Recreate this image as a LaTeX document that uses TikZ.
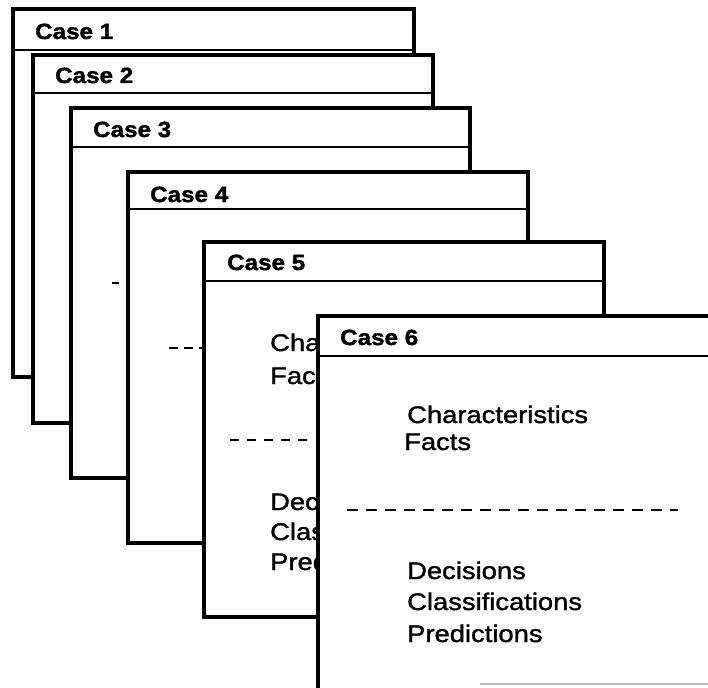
\documentclass[tikz,border=0pt]{standalone}
\usepackage{fontspec}
\setmainfont{Liberation Sans}
\newfontfamily\bodyfont[FakeStretch=1.14,FakeBold=1.4]{Liberation Sans}
\newfontfamily\headfont[FakeStretch=1.1,FakeBold=1.6]{Liberation Sans}
\tikzset{
  casebox/.style={draw=black, line width=3.2pt, fill=white, line join=miter},
  headline/.style={line width=2.4pt},
  sepline/.style={line width=2.2pt, dash pattern=on 10pt off 8pt},
  head/.style={anchor=base west, inner sep=0pt, font=\headfont\bfseries\fontsize{22}{22}\selectfont},
  body/.style={anchor=base west, inner sep=0pt, font=\bodyfont\fontsize{24}{24}\selectfont},
}
\begin{document}
\begin{tikzpicture}[x=1pt,y=-1pt]
\useasboundingbox (0,0) rectangle (708,687);
\clip (0,0) rectangle (708,687);
% Case 1
\draw[casebox] (13,9) rectangle (414,377);
\draw[headline] (13,50) -- (414,50);
\node[head] (h1) at (35,39) {Case 1};
% Case 2
\draw[casebox] (33,55) rectangle (433,423);
\draw[headline] (33,93) -- (433,93);
\node[head] (h2) at (55,83) {Case 2};
% Case 3
\draw[casebox] (71,108) rectangle (470,478);
\draw[headline] (71,147) -- (470,147);
\node[head] (h3) at (93,137) {Case 3};
\draw[sepline] (112,283) -- (119,283);
% Case 4
\draw[casebox] (128,172) rectangle (528,543);
\draw[headline] (128,209) -- (528,209);
\node[head] (h4) at (150,202) {Case 4};
\draw[sepline, dash pattern=on 9pt off 6pt] (169,348) -- (202,348);
% Case 5
\draw[casebox] (204,242) rectangle (604,617);
\draw[headline] (204,281) -- (604,281);
\node[head] (h5) at (227,270) {Case 5};
\node[body] (c5a) at (270,351) {Characteristics};
\node[body] (c5b) at (270,384) {Facts};
\draw[sepline, dash pattern=on 9pt off 8pt] (230,440) -- (308,440);
\node[body] (c5c) at (270,510) {Decisions};
\node[body] (c5d) at (270,540) {Classifications};
\node[body] (c5e) at (270,570) {Predictions};
% Case 6
\draw[casebox] (318,316) rectangle (740,720);
\draw[headline] (318,356) -- (740,356);
\node[head] (h6) at (340,345) {Case 6};
\node[body] (c6a) at (407,423) {Characteristics};
\node[body] (c6b) at (404,450) {Facts};
\draw[sepline, dash pattern=on 11pt off 8pt] (347,510) -- (678,510);
\node[body] (c6c) at (407,579) {Decisions};
\node[body] (c6d) at (407,610) {Classifications};
\node[body] (c6e) at (407,642) {Predictions};
\draw[gray!55, line width=1.5pt] (480,684) -- (708,684);
\end{tikzpicture}
\end{document}
